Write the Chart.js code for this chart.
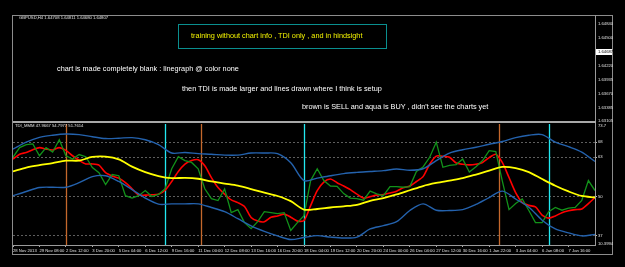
<!DOCTYPE html>
<html>
<head>
<meta charset="utf-8">
<script src="https://cdn.jsdelivr.net/npm/chart.js@4.4.0/dist/chart.umd.min.js"></script>
<style>
  html, body { margin: 0; padding: 0; background: #000; width: 625px; height: 267px; overflow: hidden; }
  #wrap { position: relative; width: 625px; height: 267px; }
  #c { position: absolute; left: 0; top: 0; z-index: 2; }
  .box { position: absolute; box-sizing: border-box; }
  .txt { position: absolute; white-space: nowrap; line-height: 1; z-index: 3;
         font-family: "Liberation Sans", Arial, sans-serif; color: #fff; }
  .note { font-size: 7.3px; }
  .tiny { font-size: 4.2px; color: #e0e0e0; }
</style>
</head>
<body>
<div id="wrap">
  <!-- terminal frame -->
  <div class="box" style="left:12px;top:15px;width:601px;height:240px;border:1px solid #8c8c8c;"></div>
  <div class="box" style="left:595px;top:15px;width:1px;height:109px;background:#9a9a9a;"></div>
  <div class="box" style="left:13px;top:121px;width:583px;height:2px;background:#a8a8a8;"></div>
  <div class="box" style="left:178px;top:24px;width:209px;height:25px;border:1px solid #0a8f8f;"></div>
  <div class="box" style="left:596px;top:49px;width:16px;height:6px;background:#fff;z-index:3;"></div>

  <canvas id="c" width="625" height="267"></canvas>

  <div class="txt tiny" style="left:19px;top:16.3px;">GBPUSD,H4 1.64708 1.64811 1.64680 1.64807</div>
  <div class="txt note" style="left:191px;top:32.4px;color:#f2f200;">training without chart info , TDI only , and in hindsight</div>
  <div class="txt note" style="left:57px;top:64.6px;">chart is made completely blank : linegraph @ color none</div>
  <div class="txt note" style="left:182px;top:84.6px;">then TDI is made larger and lines drawn where I think is setup</div>
  <div class="txt note" style="left:302px;top:103px;">brown is SELL and aqua is BUY , didn't see the charts yet</div>
  <div class="txt tiny" style="left:15px;top:124.3px;">TDI_MMM 47.9667 54.7977 51.7614</div>

  <div class="txt tiny" style="left:598px;top:22px;">1.64840</div>
  <div class="txt tiny" style="left:598px;top:36px;">1.64500</div>
  <div class="txt tiny" style="left:598px;top:50px;color:#000;">1.64687</div>
  <div class="txt tiny" style="left:598px;top:64px;">1.64220</div>
  <div class="txt tiny" style="left:598px;top:78px;">1.63935</div>
  <div class="txt tiny" style="left:598px;top:92px;">1.63670</div>
  <div class="txt tiny" style="left:598px;top:106px;">1.63385</div>
  <div class="txt tiny" style="left:598px;top:119px;">1.63105</div>
  <div class="txt tiny" style="left:598px;top:124px;">73.7</div>
  <div class="txt tiny" style="left:598px;top:242px;">10.3994</div>
</div>

<script>
// time axis, one label every 8 H4 bars
const timeLabels = [
  '28 Nov 2013', '29 Nov 08:00', '2 Dec 12:00', '3 Dec 20:00', '5 Dec 04:00', '6 Dec 12:00',
  '9 Dec 16:00', '11 Dec 00:00', '12 Dec 08:00', '13 Dec 16:00', '16 Dec 20:00', '18 Dec 04:00',
  '19 Dec 12:00', '20 Dec 20:00', '24 Dec 00:00', '26 Dec 04:00', '27 Dec 12:00', '30 Dec 16:00',
  '1 Jan 22:00', '3 Jan 04:00', '6 Jan 08:00', '7 Jan 16:00'
];
const labelEvery = 8;
const lastBar = 176;

// TDI bands + base line, sampled every 4 bars
const bandStep = 4;
const upperBand = [65.7, 68.0, 69.6, 70.3, 70.7, 70.5, 69.8, 69.2, 69.3, 69.5, 68.8, 67.2, 64.4, 64.6, 64.2,
  64.0, 63.7, 63.7, 64.4, 64.4, 64.2, 61.2, 55.3, 56.1, 56.9, 57.6, 58.0, 58.3, 58.6, 59.1,
  58.7, 59.2, 61.9, 64.4, 65.5, 66.3, 67.3, 68.2, 69.5, 70.3, 70.5, 68.0, 66.5, 64.7, 61.6];
const lowerBand = [50.3, 51.7, 53.0, 53.1, 53.1, 54.6, 56.6, 56.9, 55.0, 52.3, 49.5, 47.5, 47.6, 47.6, 47.6,
  46.4, 45.0, 42.7, 40.3, 38.5, 37.0, 35.8, 36.5, 37.1, 36.6, 36.3, 36.6, 39.3, 40.4, 41.7,
  45.4, 47.6, 45.5, 45.4, 45.7, 47.4, 49.7, 51.8, 49.2, 46.5, 42.2, 39.3, 38.0, 37.0, 37.5];
const baseLine = [58.3, 59.6, 60.4, 61.1, 61.9, 61.9, 63.1, 63.2, 62.3, 59.9, 58.1, 56.8, 56.1, 56.2, 55.9,
  55.0, 54.3, 53.6, 52.5, 51.3, 50.2, 48.5, 45.7, 45.9, 46.4, 46.8, 47.3, 48.6, 49.5, 50.7,
  52.1, 53.5, 54.5, 55.3, 56.1, 57.3, 58.6, 59.8, 59.4, 58.1, 55.8, 53.6, 51.7, 50.2, 49.7];

// price line (green) and signal line (red), sampled every 2 bars
const lineStep = 2;
const rsiLine = [63.0, 66.2, 67.2, 67.4, 63.5, 66.2, 64.7, 68.8, 63.5, 62.4, 63.9, 63.2, 59.6, 57.9, 54.0,
  57.3, 56.9, 50.3, 49.5, 50.3, 52.0, 50.0, 50.7, 52.6, 59.2, 63.2, 61.9, 61.3, 59.2, 52.6,
  49.3, 48.7, 52.5, 44.7, 45.7, 41.4, 39.4, 41.7, 45.0, 44.7, 44.4, 44.7, 38.8, 41.4, 43.7,
  55.3, 59.2, 55.3, 53.5, 53.4, 51.0, 49.5, 49.3, 48.8, 51.8, 50.9, 50.3, 53.3, 53.3, 53.1,
  53.3, 58.3, 59.8, 63.0, 68.0, 59.7, 60.3, 60.6, 62.4, 58.1, 59.9, 61.9, 65.2, 64.9, 55.0,
  45.7, 47.7, 49.2, 45.4, 41.4, 41.4, 45.0, 46.4, 45.5, 46.2, 46.4, 48.7, 55.3, 52.0];
const signalLine = [62.4, 64.0, 64.6, 65.5, 66.2, 65.7, 65.4, 66.2, 65.3, 63.5, 62.0, 60.8, 60.8, 60.4, 57.9,
  56.8, 56.1, 54.6, 52.6, 50.5, 50.5, 50.6, 50.8, 52.1, 55.0, 58.3, 60.7, 61.9, 62.2, 60.2,
  56.3, 53.0, 50.8, 48.9, 48.0, 46.7, 43.1, 41.9, 41.7, 43.2, 43.6, 44.2, 43.2, 41.9, 42.1,
  47.0, 52.0, 54.8, 55.8, 54.6, 53.5, 52.3, 50.8, 49.5, 50.0, 50.5, 50.7, 51.2, 51.8, 52.9,
  53.5, 55.0, 56.6, 60.7, 63.4, 63.3, 63.0, 61.1, 60.7, 60.5, 60.7, 61.3, 62.9, 64.0, 61.2,
  56.3, 51.3, 48.0, 47.1, 46.6, 43.9, 42.9, 43.6, 44.7, 45.3, 45.7, 45.9, 47.7, 49.7];

const gridLevels = [68, 63, 50, 37];
// bars where the setups were marked
const sellBars = [16, 57, 147];
const buyBars = [46, 88, 162];

const toPoints = (vals, step) => vals.map((v, i) => ({ x: i * step, y: v }));
const tinyFont = { size: 4.2, family: '"Liberation Sans", Arial, sans-serif' };

const setupLines = {
  id: 'setupLines',
  beforeDatasetsDraw(chart) {
    const { ctx, chartArea, scales: { x } } = chart;
    ctx.save();
    ctx.lineWidth = 1.3;
    const draw = (bars, color) => bars.forEach(b => {
      const px = Math.round(x.getPixelForValue(b)) + 0.5;
      ctx.strokeStyle = color;
      ctx.beginPath();
      ctx.moveTo(px, chartArea.top);
      ctx.lineTo(px, chartArea.bottom);
      ctx.stroke();
    });
    draw(sellBars, '#c4682c');
    draw(buyBars, '#22e8f0');
    ctx.restore();
  }
};

const line = (data, color, width, tension) => ({
  data, borderColor: color, borderWidth: width, pointRadius: 0, tension, fill: false
});

new Chart(document.getElementById('c'), {
  type: 'line',
  data: {
    datasets: [
      line(toPoints(upperBand, bandStep), '#2462ad', 1.4, 0.3),
      line(toPoints(lowerBand, bandStep), '#2462ad', 1.4, 0.3),
      line(toPoints(baseLine, bandStep), '#ffff00', 1.8, 0.3),
      line(toPoints(rsiLine, lineStep), '#12921a', 1.3, 0),
      line(toPoints(signalLine, lineStep), '#ff0000', 1.6, 0.25),
    ],
  },
  options: {
    responsive: false,
    devicePixelRatio: 1,
    animation: false,
    layout: { padding: { left: 13, top: 124, right: 12, bottom: 10 } },
    plugins: { legend: { display: false }, tooltip: { enabled: false } },
    scales: {
      x: {
        type: 'linear',
        min: 0,
        max: lastBar,
        afterBuildTicks: s => { s.ticks = timeLabels.map((_, i) => ({ value: i * labelEvery })); },
        afterFit: s => { s.height = 12; },
        grid: { drawOnChartArea: false, tickLength: 2, tickColor: '#aaaaaa' },
        border: { color: '#9a9a9a' },
        ticks: {
          color: '#e0e0e0', font: tinyFont, padding: 1, maxRotation: 0, autoSkip: false, align: 'start',
          callback: (v, i) => timeLabels[i],
        },
      },
      y: {
        position: 'right',
        min: 34,
        max: 74,
        afterBuildTicks: s => { s.ticks = gridLevels.map(v => ({ value: v })); },
        afterFit: s => { s.width = 18; },
        grid: { color: '#5e5e5e', lineWidth: 1, tickLength: 2, tickColor: '#bbbbbb', tickBorderDash: [] },
        border: { display: true, color: '#9a9a9a', dash: [2, 2] },
        ticks: { color: '#e0e0e0', font: tinyFont, padding: 1 },
      },
    },
  },
  plugins: [setupLines],
});
</script>
</body>
</html>
